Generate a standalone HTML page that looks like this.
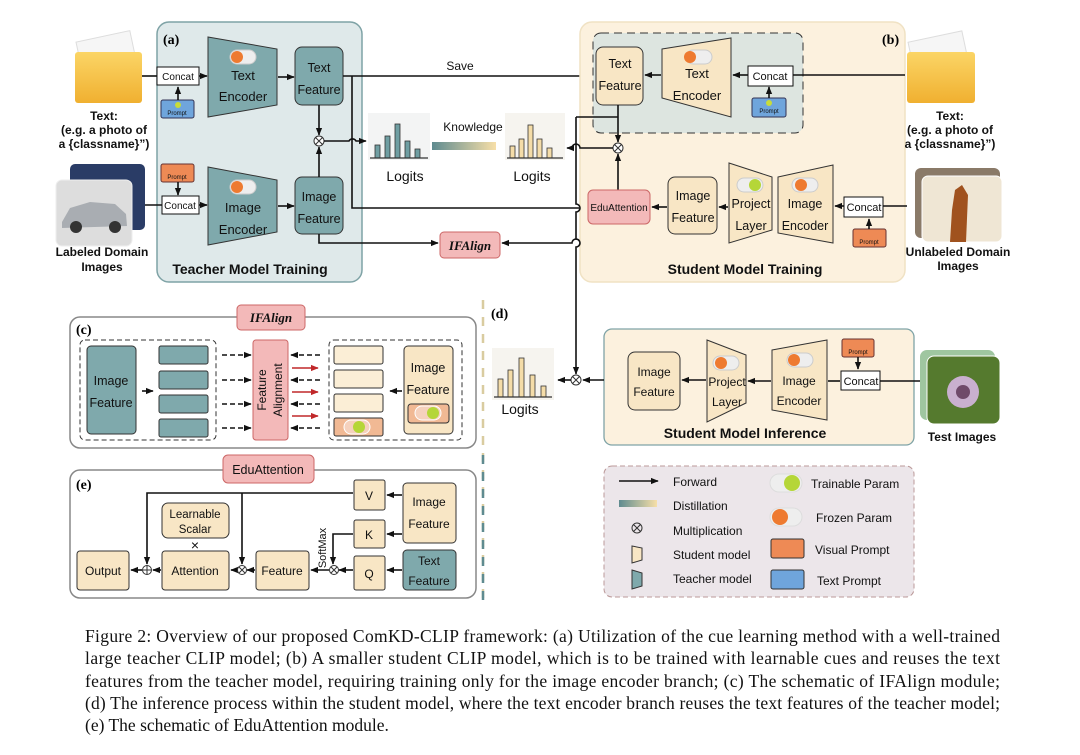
<!DOCTYPE html>
<html><head><meta charset="utf-8"><style>
body{margin:0;background:#fff}
svg{display:block}
.t{fill:#111;text-anchor:middle}
.b{font-weight:bold}
.cap{font-family:"Liberation Serif",serif;font-size:17.5px;fill:#111}
.ln{stroke:#111;stroke-width:1.6;fill:none}
</style></head><body>
<svg width="1080" height="755" viewBox="0 0 1080 755" xmlns="http://www.w3.org/2000/svg" font-family="Liberation Sans, sans-serif" font-size="12">
<defs>
<marker id="a" viewBox="0 0 10 10" refX="9" refY="5" markerWidth="5" markerHeight="5" orient="auto"><path d="M0,1 L10,5 L0,9z" fill="#111"/></marker>
<marker id="r" viewBox="0 0 10 10" refX="9" refY="5" markerWidth="5" markerHeight="5" orient="auto"><path d="M0,1 L10,5 L0,9z" fill="#c0282a"/></marker>
<linearGradient id="kg" x1="0" x2="1"><stop offset="0" stop-color="#5f8b90"/><stop offset="1" stop-color="#f7dfa8"/></linearGradient>
<linearGradient id="dg" x1="0" x2="1"><stop offset="0" stop-color="#5f8b90"/><stop offset="1" stop-color="#e9d7a9"/></linearGradient>
<linearGradient id="fo" x1="0" x2="0" y1="0" y2="1"><stop offset="0" stop-color="#fbd566"/><stop offset="1" stop-color="#f0b030"/></linearGradient>
</defs>
<rect width="1080" height="755" fill="#fff"/>

<!-- Teacher panel -->
<rect x="157" y="22" width="205" height="260" rx="12" fill="#dfe9ea" stroke="#7fa3a6" stroke-width="1.5"/>
<text x="163" y="44" font-family="Liberation Serif" font-weight="bold" font-size="14">(a)</text>
<rect x="80" y="36" width="55" height="45" fill="#f6f6f6" stroke="#ddd" transform="rotate(-12 107 58)"/>
<rect x="75" y="52" width="67" height="51" rx="3" fill="url(#fo)"/>
<text class="t b" x="104" y="120">Text:</text>
<text class="t b" x="104" y="134">(e.g. a photo of</text>
<text class="t b" x="104" y="148">a {classname}”)</text>
<rect x="70" y="164" width="75" height="66" rx="5" fill="#2a3c66"/>
<rect x="56" y="180" width="76" height="66" rx="6" fill="#ddd" stroke="#eee"/>
<path d="M62,222 L70,208 L90,202 L115,204 L126,214 L127,226 L62,228z" fill="#a9adb2"/>
<circle cx="76" cy="227" r="6" fill="#333"/><circle cx="115" cy="227" r="6" fill="#333"/>
<text class="t b" x="102" y="256">Labeled Domain</text>
<text class="t b" x="102" y="271">Images</text>

<path class="ln" d="M142,76 H157" /><rect x="157" y="67" width="42" height="18" fill="#fff" stroke="#111"/><text class="t" x="178" y="80" font-size="10">Concat</text>
<rect x="161" y="100" width="33" height="18" rx="2" fill="#6fa5dc" stroke="#335"/><text class="t" x="177" y="115" font-size="6">Prompt</text><circle cx="178" cy="105" r="3" fill="#c8dc3a"/>
<path class="ln" d="M178,100 V87" marker-end="url(#a)"/>
<path class="ln" d="M199,76 H207" marker-end="url(#a)"/>
<polygon points="208,37 277,49 277,105 208,117" fill="#7fa9ac" stroke="#333"/>
<rect x="230" y="50" width="26" height="14" rx="7" fill="#eee" stroke="#ccc"/><circle cx="237" cy="57" r="6" fill="#ee7a30"/>
<text class="t" x="243" y="80" font-size="13">Text</text><text class="t" x="243" y="101" font-size="13">Encoder</text>
<path class="ln" d="M278,77 H294" marker-end="url(#a)"/>
<rect x="295" y="47" width="48" height="58" rx="7" fill="#7fa9ac" stroke="#333"/>
<text class="t" x="319" y="72" font-size="12.5">Text</text><text class="t" x="319" y="94" font-size="12.5">Feature</text>

<rect x="161" y="164" width="33" height="18" rx="2" fill="#ee8a55" stroke="#633"/><text class="t" x="177" y="179" font-size="6">Prompt</text>
<path class="ln" d="M178,182 V195" marker-end="url(#a)"/>
<path class="ln" d="M145,205 H162"/><rect x="162" y="196" width="37" height="18" fill="#fff" stroke="#111"/><text class="t" x="180" y="209" font-size="10">Concat</text>
<path class="ln" d="M199,205 H207" marker-end="url(#a)"/>
<polygon points="208,167 277,180 277,232 208,245" fill="#7fa9ac" stroke="#333"/>
<rect x="230" y="180" width="26" height="14" rx="7" fill="#eee" stroke="#ccc"/><circle cx="237" cy="187" r="6" fill="#ee7a30"/>
<text class="t" x="243" y="212" font-size="13">Image</text><text class="t" x="243" y="234" font-size="13">Encoder</text>
<path class="ln" d="M278,206 H294" marker-end="url(#a)"/>
<rect x="295" y="177" width="48" height="57" rx="7" fill="#7fa9ac" stroke="#333"/>
<text class="t" x="319" y="201" font-size="12.5">Image</text><text class="t" x="319" y="223" font-size="12.5">Feature</text>
<path class="ln" d="M319,105 V135" marker-end="url(#a)"/>
<path class="ln" d="M319,177 V147" marker-end="url(#a)"/>
<circle cx="319" cy="141" r="5" fill="#fff" stroke="#333"/><path d="M315.5,137.5 L322.5,144.5 M322.5,137.5 L315.5,144.5" stroke="#333"/>
<text class="t b" x="250" y="274" font-size="14">Teacher Model Training</text>

<path class="ln" d="M343,76 H594" marker-end="url(#a)"/>
<text class="t" x="460" y="70" font-size="12">Save</text>
<path class="ln" d="M352,76 V208 H587" marker-end="url(#a)"/>
<path class="ln" d="M324,141 H349 A4,4 0 0 1 356,141 H366" marker-end="url(#a)"/>
<path class="ln" d="M319,234 V243 H438" marker-end="url(#a)"/>
<rect x="440" y="232" width="60" height="26" rx="4" fill="#f3b9b9" stroke="#cc6767"/>
<text class="t" x="470" y="250" font-family="Liberation Serif" font-style="italic" font-weight="bold" font-size="13" fill="#a02020">IFAlign</text>
<path class="ln" d="M693,234 V243 H580 A4,4 0 0 0 572,243 H502" marker-end="url(#a)"/>

<rect x="368" y="113" width="62" height="47" fill="#f3f4f4"/>
<g fill="#6f9ea2" stroke="#333" stroke-width=".8">
<rect x="375" y="145" width="5" height="13"/><rect x="385" y="136" width="5" height="22"/><rect x="395" y="124" width="5" height="34"/><rect x="405" y="141" width="5" height="17"/><rect x="415" y="149" width="5" height="9"/></g>
<path d="M370,158 H428" stroke="#333" stroke-width="1.2"/>
<text class="t" x="405" y="181" font-size="14">Logits</text>
<rect x="432" y="142" width="64" height="8" fill="url(#kg)"/>
<text class="t" x="473" y="131" font-size="12">Knowledge</text>
<rect x="505" y="113" width="60" height="47" fill="#f6f4ef"/>
<g fill="#f4dca8" stroke="#333" stroke-width=".8">
<rect x="510" y="146" width="5" height="12"/><rect x="519" y="139" width="5" height="19"/><rect x="528" y="125" width="5" height="33"/><rect x="537" y="139" width="5" height="19"/><rect x="547" y="148" width="5" height="10"/></g>
<path d="M507,158 H563" stroke="#333" stroke-width="1.2"/>
<text class="t" x="532" y="181" font-size="14">Logits</text>

<!-- Student panel -->
<rect x="580" y="22" width="325" height="260" rx="12" fill="#fcf1de" stroke="#f0e2c4" stroke-width="1.5"/>
<rect x="593" y="33" width="210" height="100" rx="8" fill="#dde5e0" stroke="#333" stroke-dasharray="8,5"/>
<text x="882" y="44" font-family="Liberation Serif" font-weight="bold" font-size="14">(b)</text>
<rect x="596" y="47" width="47" height="58" rx="7" fill="#f8e6c5" stroke="#333"/>
<text class="t" x="620" y="68" font-size="12.5">Text</text><text class="t" x="620" y="90" font-size="12.5">Feature</text>
<polygon points="662,49 731,38 731,117 662,98" fill="#f8e6c5" stroke="#333"/>
<rect x="686" y="50" width="26" height="14" rx="7" fill="#eee" stroke="#ccc"/><circle cx="690" cy="57" r="6" fill="#ee7a30"/>
<text class="t" x="697" y="78" font-size="13">Text</text><text class="t" x="697" y="100" font-size="13">Encoder</text>
<path class="ln" d="M661,75 H645" marker-end="url(#a)"/>
<path class="ln" d="M748,75 H733" marker-end="url(#a)"/>
<rect x="748" y="66" width="45" height="20" fill="#fff" stroke="#111"/><text class="t" x="770" y="80" font-size="11">Concat</text>
<rect x="752" y="98" width="34" height="19" rx="2" fill="#6fa5dc" stroke="#335"/><text class="t" x="769" y="113" font-size="6">Prompt</text><circle cx="769" cy="103" r="3" fill="#c8dc3a"/>
<path class="ln" d="M769,98 V87" marker-end="url(#a)"/>
<path class="ln" d="M793,75 H905"/>
<rect x="912" y="36" width="55" height="45" fill="#f6f6f6" stroke="#ddd" transform="rotate(-12 940 58)"/>
<rect x="907" y="52" width="68" height="51" rx="3" fill="url(#fo)"/>
<text class="t b" x="950" y="120">Text:</text>
<text class="t b" x="950" y="134">(e.g. a photo of</text>
<text class="t b" x="950" y="148">a {classname}”)</text>

<path class="ln" d="M618,105 V142" marker-end="url(#a)"/>
<path class="ln" d="M576,117 H618"/>
<circle cx="618" cy="148" r="5" fill="#fff" stroke="#333"/><path d="M614.5,144.5 L621.5,151.5 M621.5,144.5 L614.5,151.5" stroke="#333"/>
<path class="ln" d="M613,148 H580 A4,4 0 0 0 572,148 H567" marker-end="url(#a)"/>
<path class="ln" d="M618,190 V154" marker-end="url(#a)"/>
<path class="ln" d="M576,117 V204 A4,4 0 0 1 576,212 V239 A4,4 0 0 1 576,247 V345"/>
<rect x="588" y="190" width="62" height="34" rx="5" fill="#f3b9b9" stroke="#cc6767"/>
<text class="t" x="619" y="211" font-size="10">EduAttention</text>
<rect x="668" y="177" width="49" height="57" rx="7" fill="#f8e6c5" stroke="#333"/>
<text class="t" x="693" y="200" font-size="12.5">Image</text><text class="t" x="693" y="222" font-size="12.5">Feature</text>
<path class="ln" d="M667,207 H652" marker-end="url(#a)"/>
<polygon points="729,163 772,177 772,230 729,243" fill="#f8e6c5" stroke="#333"/>
<rect x="737" y="178" width="26" height="14" rx="7" fill="#eee" stroke="#ccc"/><circle cx="755" cy="185" r="6" fill="#b5d638"/>
<text class="t" x="751" y="208" font-size="12.5">Project</text><text class="t" x="751" y="230" font-size="12.5">Layer</text>
<path class="ln" d="M728,207 H719" marker-end="url(#a)"/>
<polygon points="778,177 833,165 833,243 778,233" fill="#f8e6c5" stroke="#333"/>
<rect x="792" y="178" width="26" height="14" rx="7" fill="#eee" stroke="#ccc"/><circle cx="801" cy="185" r="6" fill="#ee7a30"/>
<text class="t" x="805" y="208" font-size="12.5">Image</text><text class="t" x="805" y="230" font-size="12.5">Encoder</text>
<path class="ln" d="M844,206 H835" marker-end="url(#a)"/>
<rect x="844" y="197" width="39" height="20" fill="#fff" stroke="#111"/><text class="t" x="864" y="211" font-size="11">Concat</text>
<rect x="853" y="229" width="33" height="18" rx="2" fill="#ee8a55" stroke="#633"/><text class="t" x="869" y="244" font-size="6">Prompt</text>
<path class="ln" d="M869,229 V219" marker-end="url(#a)"/>
<path class="ln" d="M883,206 H907"/>
<rect x="915" y="168" width="85" height="70" rx="6" fill="#8a7a68"/>
<rect x="922" y="176" width="80" height="66" rx="6" fill="#efe6d4" stroke="#fff"/>
<path d="M955,190 L962,185 L968,195 L966,242 L950,242 L952,210z" fill="#a0521e"/>
<text class="t b" x="958" y="256">Unlabeled Domain</text>
<text class="t b" x="958" y="270">Images</text>
<text class="t b" x="745" y="274" font-size="14">Student Model Training</text>

<line x1="70" y1="298" x2="915" y2="298" stroke="url(#dg)" stroke-width="3" stroke-dasharray="9,8"/>
<line x1="483" y1="300" x2="483" y2="600" stroke="#d9cca0" stroke-width="2.5" stroke-dasharray="9,8"/>
<line x1="483" y1="455" x2="483" y2="600" stroke="#5f8b90" stroke-width="2.5" stroke-dasharray="9,8"/>
<line x1="487" y1="455" x2="915" y2="455" stroke="url(#dg)" stroke-width="2.5" stroke-dasharray="9,8"/>

<!-- (c) -->
<rect x="70" y="317" width="406" height="131" rx="10" fill="#fff" stroke="#888" stroke-width="1.5"/>
<text x="76" y="334" font-family="Liberation Serif" font-weight="bold" font-size="14">(c)</text>
<rect x="237" y="305" width="68" height="25" rx="4" fill="#f3b9b9" stroke="#cc6767"/>
<text class="t" x="271" y="322" font-family="Liberation Serif" font-style="italic" font-weight="bold" font-size="13" fill="#a02020">IFAlign</text>
<rect x="80" y="340" width="136" height="100" rx="5" fill="none" stroke="#333" stroke-dasharray="5,3"/>
<rect x="87" y="346" width="49" height="88" rx="4" fill="#7fa9ac" stroke="#333"/>
<text class="t" x="111" y="385" font-size="12.5">Image</text><text class="t" x="111" y="407" font-size="12.5">Feature</text>
<path class="ln" d="M142,391 H153" marker-end="url(#a)"/>
<g fill="#7fa9ac" stroke="#333"><rect x="159" y="346" width="49" height="18" rx="2"/><rect x="159" y="371" width="49" height="18" rx="2"/><rect x="159" y="395" width="49" height="18" rx="2"/><rect x="159" y="419" width="49" height="18" rx="2"/></g>
<g class="ln" stroke-dasharray="5,3"><path d="M222,355 H251" marker-end="url(#a)"/><path d="M222,380 H251" marker-end="url(#a)"/><path d="M222,404 H251" marker-end="url(#a)"/><path d="M222,428 H251" marker-end="url(#a)"/>
<path d="M320,355 H291" marker-end="url(#a)"/><path d="M320,380 H291" marker-end="url(#a)"/><path d="M320,404 H291" marker-end="url(#a)"/><path d="M320,428 H291" marker-end="url(#a)"/></g>
<g stroke="#c0282a" stroke-width="1.6"><path d="M292,368 H318" marker-end="url(#r)"/><path d="M292,392 H318" marker-end="url(#r)"/><path d="M292,416 H318" marker-end="url(#r)"/></g>
<rect x="253" y="340" width="35" height="100" rx="3" fill="#f3b9b9" stroke="#cc6767"/>
<text class="t" transform="translate(266,390) rotate(-90)" font-size="12">Feature</text>
<text class="t" transform="translate(282,390) rotate(-90)" font-size="12">Alignment</text>
<rect x="329" y="340" width="133" height="100" rx="5" fill="none" stroke="#333" stroke-dasharray="5,3"/>
<g fill="#fbeed6" stroke="#333"><rect x="334" y="346" width="49" height="18" rx="2"/><rect x="334" y="370" width="49" height="18" rx="2"/><rect x="334" y="394" width="49" height="18" rx="2"/></g>
<rect x="334" y="418" width="49" height="18" rx="2" fill="#f1b994" stroke="#333"/>
<rect x="344" y="420" width="26" height="14" rx="7" fill="#f5d1bd" stroke="#fff"/><circle cx="359" cy="427" r="6" fill="#b5d638"/>
<path class="ln" d="M402,391 H390" marker-end="url(#a)"/>
<rect x="404" y="346" width="49" height="88" rx="4" fill="#f8e6c5" stroke="#333"/>
<text class="t" x="428" y="372" font-size="12.5">Image</text><text class="t" x="428" y="394" font-size="12.5">Feature</text>
<rect x="408" y="404" width="41" height="19" rx="3" fill="#f1b994" stroke="#333"/>
<rect x="415" y="406" width="26" height="14" rx="7" fill="#f5d1bd" stroke="#fff"/><circle cx="433" cy="413" r="6" fill="#b5d638"/>

<!-- (e) -->
<rect x="70" y="470" width="406" height="128" rx="10" fill="#fff" stroke="#888" stroke-width="1.5"/>
<text x="76" y="489" font-family="Liberation Serif" font-weight="bold" font-size="14">(e)</text>
<rect x="223" y="455" width="91" height="28" rx="5" fill="#f3b9b9" stroke="#cc6767"/>
<text class="t" x="268" y="474" font-size="12.5">EduAttention</text>
<g fill="#f8e6c5" stroke="#333">
<rect x="77" y="551" width="52" height="39" rx="3"/><rect x="162" y="551" width="67" height="39" rx="3"/><rect x="162" y="503" width="67" height="35" rx="6"/>
<rect x="256" y="551" width="53" height="39" rx="3"/><rect x="354" y="556" width="31" height="34" rx="2"/><rect x="354" y="520" width="31" height="28" rx="2"/><rect x="354" y="480" width="31" height="30" rx="2"/>
<rect x="403" y="483" width="53" height="60" rx="4"/></g>
<rect x="403" y="550" width="53" height="40" rx="4" fill="#7fa9ac" stroke="#333"/>
<text class="t" x="103" y="575" font-size="12">Output</text><text class="t" x="195" y="575" font-size="12">Attention</text>
<text class="t" x="195" y="518" font-size="11.5">Learnable</text><text class="t" x="195" y="533" font-size="11.5">Scalar</text>
<text class="t" x="195" y="550" font-size="14">×</text>
<text class="t" x="282" y="575" font-size="12">Feature</text>
<text class="t" x="369" y="578" font-size="12">Q</text><text class="t" x="369" y="539" font-size="12">K</text><text class="t" x="369" y="500" font-size="12">V</text>
<text class="t" x="429" y="506" font-size="12">Image</text><text class="t" x="429" y="528" font-size="12">Feature</text>
<text class="t" x="429" y="565" font-size="12">Text</text><text class="t" x="429" y="585" font-size="12">Feature</text>
<g class="ln"><path d="M402,495 H387" marker-end="url(#a)"/><path d="M402,534 H387" marker-end="url(#a)"/><path d="M402,570 H387" marker-end="url(#a)"/>
<path d="M353,570 H339" marker-end="url(#a)"/><path d="M353,534 H333 V564" marker-end="url(#a)"/>
<path d="M329,570 H311" marker-end="url(#a)"/><path d="M255,570 H247" marker-end="url(#a)"/><path d="M237,570 H231" marker-end="url(#a)"/>
<path d="M353,493 H147 V564" marker-end="url(#a)"/><path d="M242,493 V564" marker-end="url(#a)"/>
<path d="M161,570 H153" marker-end="url(#a)"/><path d="M142,570 H131" marker-end="url(#a)"/></g>
<text class="t" transform="translate(326,548) rotate(-90)" font-size="11">SoftMax</text>
<g fill="#fff" stroke="#333"><circle cx="334" cy="570" r="4.5"/><circle cx="242" cy="570" r="4.5"/><circle cx="147" cy="570" r="4.5"/></g>
<path d="M331,567 L337,573 M337,567 L331,573 M239,567 L245,573 M245,567 L239,573 M142.5,570 H151.5 M147,565.5 V574.5" stroke="#333"/>

<!-- (d) -->
<text x="491" y="318" font-family="Liberation Serif" font-weight="bold" font-size="14">(d)</text>
<rect x="492" y="348" width="62" height="52" fill="#f6f4ef"/>
<g fill="#f4dca8" stroke="#333" stroke-width=".8">
<rect x="498" y="379" width="5" height="18"/><rect x="508" y="370" width="5" height="27"/><rect x="519" y="358" width="5" height="39"/><rect x="530" y="375" width="5" height="22"/><rect x="541" y="386" width="5" height="11"/></g>
<path d="M494,397 H552" stroke="#333" stroke-width="1.2"/>
<text class="t" x="520" y="414" font-size="14">Logits</text>
<path class="ln" d="M576,345 V374" marker-end="url(#a)"/>
<circle cx="576" cy="380" r="5" fill="#fff" stroke="#333"/><path d="M572.5,376.5 L579.5,383.5 M579.5,376.5 L572.5,383.5" stroke="#333"/>
<path class="ln" d="M571,380 H558" marker-end="url(#a)"/>
<rect x="604" y="329" width="310" height="116" rx="8" fill="#fcf1de" stroke="#7fa3a6" stroke-width="1.3"/>
<path class="ln" d="M604,380 H583" marker-end="url(#a)"/>
<rect x="628" y="352" width="52" height="58" rx="7" fill="#f8e6c5" stroke="#333"/>
<text class="t" x="654" y="376" font-size="12">Image</text><text class="t" x="654" y="396" font-size="12">Feature</text>
<path class="ln" d="M706,380 H682" marker-end="url(#a)"/>
<polygon points="707,340 746,355 746,403 707,422" fill="#f8e6c5" stroke="#333"/>
<rect x="713" y="356" width="26" height="14" rx="7" fill="#eee" stroke="#ccc"/><circle cx="721" cy="363" r="6" fill="#ee7a30"/>
<text class="t" x="727" y="386" font-size="12">Project</text><text class="t" x="727" y="406" font-size="12">Layer</text>
<path class="ln" d="M771,381 H748" marker-end="url(#a)"/>
<polygon points="772,350 827,340 827,420 772,410" fill="#f8e6c5" stroke="#333"/>
<rect x="787" y="353" width="26" height="14" rx="7" fill="#eee" stroke="#ccc"/><circle cx="794" cy="360" r="6" fill="#ee7a30"/>
<text class="t" x="799" y="385" font-size="12">Image</text><text class="t" x="799" y="405" font-size="12">Encoder</text>
<path class="ln" d="M840,381 H828"/>
<rect x="841" y="371" width="39" height="19" fill="#fff" stroke="#111"/><text class="t" x="861" y="385" font-size="11">Concat</text>
<rect x="842" y="339" width="32" height="18" rx="2" fill="#ee8a55" stroke="#633"/><text class="t" x="858" y="354" font-size="6">Prompt</text>
<path class="ln" d="M858,357 V369" marker-end="url(#a)"/>
<path class="ln" d="M880,381 H920"/>
<rect x="920" y="350" width="75" height="70" rx="7" fill="#9fc6a0"/>
<rect x="927" y="356" width="73" height="68" rx="7" fill="#557a2e" stroke="#fff"/>
<circle cx="963" cy="392" r="16" fill="#c9b0cf"/><circle cx="963" cy="392" r="7" fill="#6f4a6a"/>
<text class="t b" x="962" y="441">Test Images</text>
<text class="t b" x="745" y="438" font-size="14">Student Model Inference</text>

<!-- legend -->
<rect x="604" y="466" width="310" height="131" rx="8" fill="#ece6ea" stroke="#b99" stroke-dasharray="5,3"/>
<path class="ln" d="M619,481 H658" marker-end="url(#a)"/>
<rect x="619" y="500" width="38" height="7" fill="url(#kg)"/>
<circle cx="637" cy="528" r="5" fill="none" stroke="#333"/><path d="M633.5,524.5 L640.5,531.5 M640.5,524.5 L633.5,531.5" stroke="#333"/>
<path d="M632,546 L642,548 L642,560 L632,563z" fill="#f8e6c5" stroke="#333"/>
<path d="M632,570 L642,573 L642,586 L632,589z" fill="#7fa9ac" stroke="#333"/>
<g fill="#111" font-size="12">
<text x="673" y="486">Forward</text><text x="673" y="510">Distillation</text><text x="673" y="535">Multiplication</text><text x="673" y="559">Student model</text><text x="673" y="583">Teacher model</text>
<text x="811" y="488">Trainable Param</text><text x="816" y="522">Frozen Param</text><text x="815" y="554">Visual Prompt</text><text x="817" y="585">Text Prompt</text></g>
<rect x="770" y="474" width="32" height="18" rx="9" fill="#eee" stroke="#ddd"/><circle cx="792" cy="483" r="8" fill="#b5d638"/>
<rect x="770" y="508" width="32" height="18" rx="9" fill="#eee" stroke="#ddd"/><circle cx="780" cy="517" r="8" fill="#ee7a30"/>
<rect x="771" y="539" width="33" height="19" rx="2" fill="#ee8a55" stroke="#333"/>
<rect x="771" y="570" width="33" height="19" rx="2" fill="#6fa5dc" stroke="#333"/>

<!-- caption -->
<text class="cap" x="85" y="642" textLength="915" lengthAdjust="spacing">Figure 2: Overview of our proposed ComKD-CLIP framework: (a) Utilization of the cue learning method with a well-trained</text>
<text class="cap" x="85" y="664" textLength="915" lengthAdjust="spacing">large teacher CLIP model; (b) A smaller student CLIP model, which is to be trained with learnable cues and reuses the text</text>
<text class="cap" x="85" y="687" textLength="915" lengthAdjust="spacing">features from the teacher model, requiring training only for the image encoder branch; (c) The schematic of IFAlign module;</text>
<text class="cap" x="85" y="709" textLength="915" lengthAdjust="spacing">(d) The inference process within the student model, where the text encoder branch reuses the text features of the teacher model;</text>
<text class="cap" x="85" y="731">(e) The schematic of EduAttention module.</text>
</svg>
</body></html>
